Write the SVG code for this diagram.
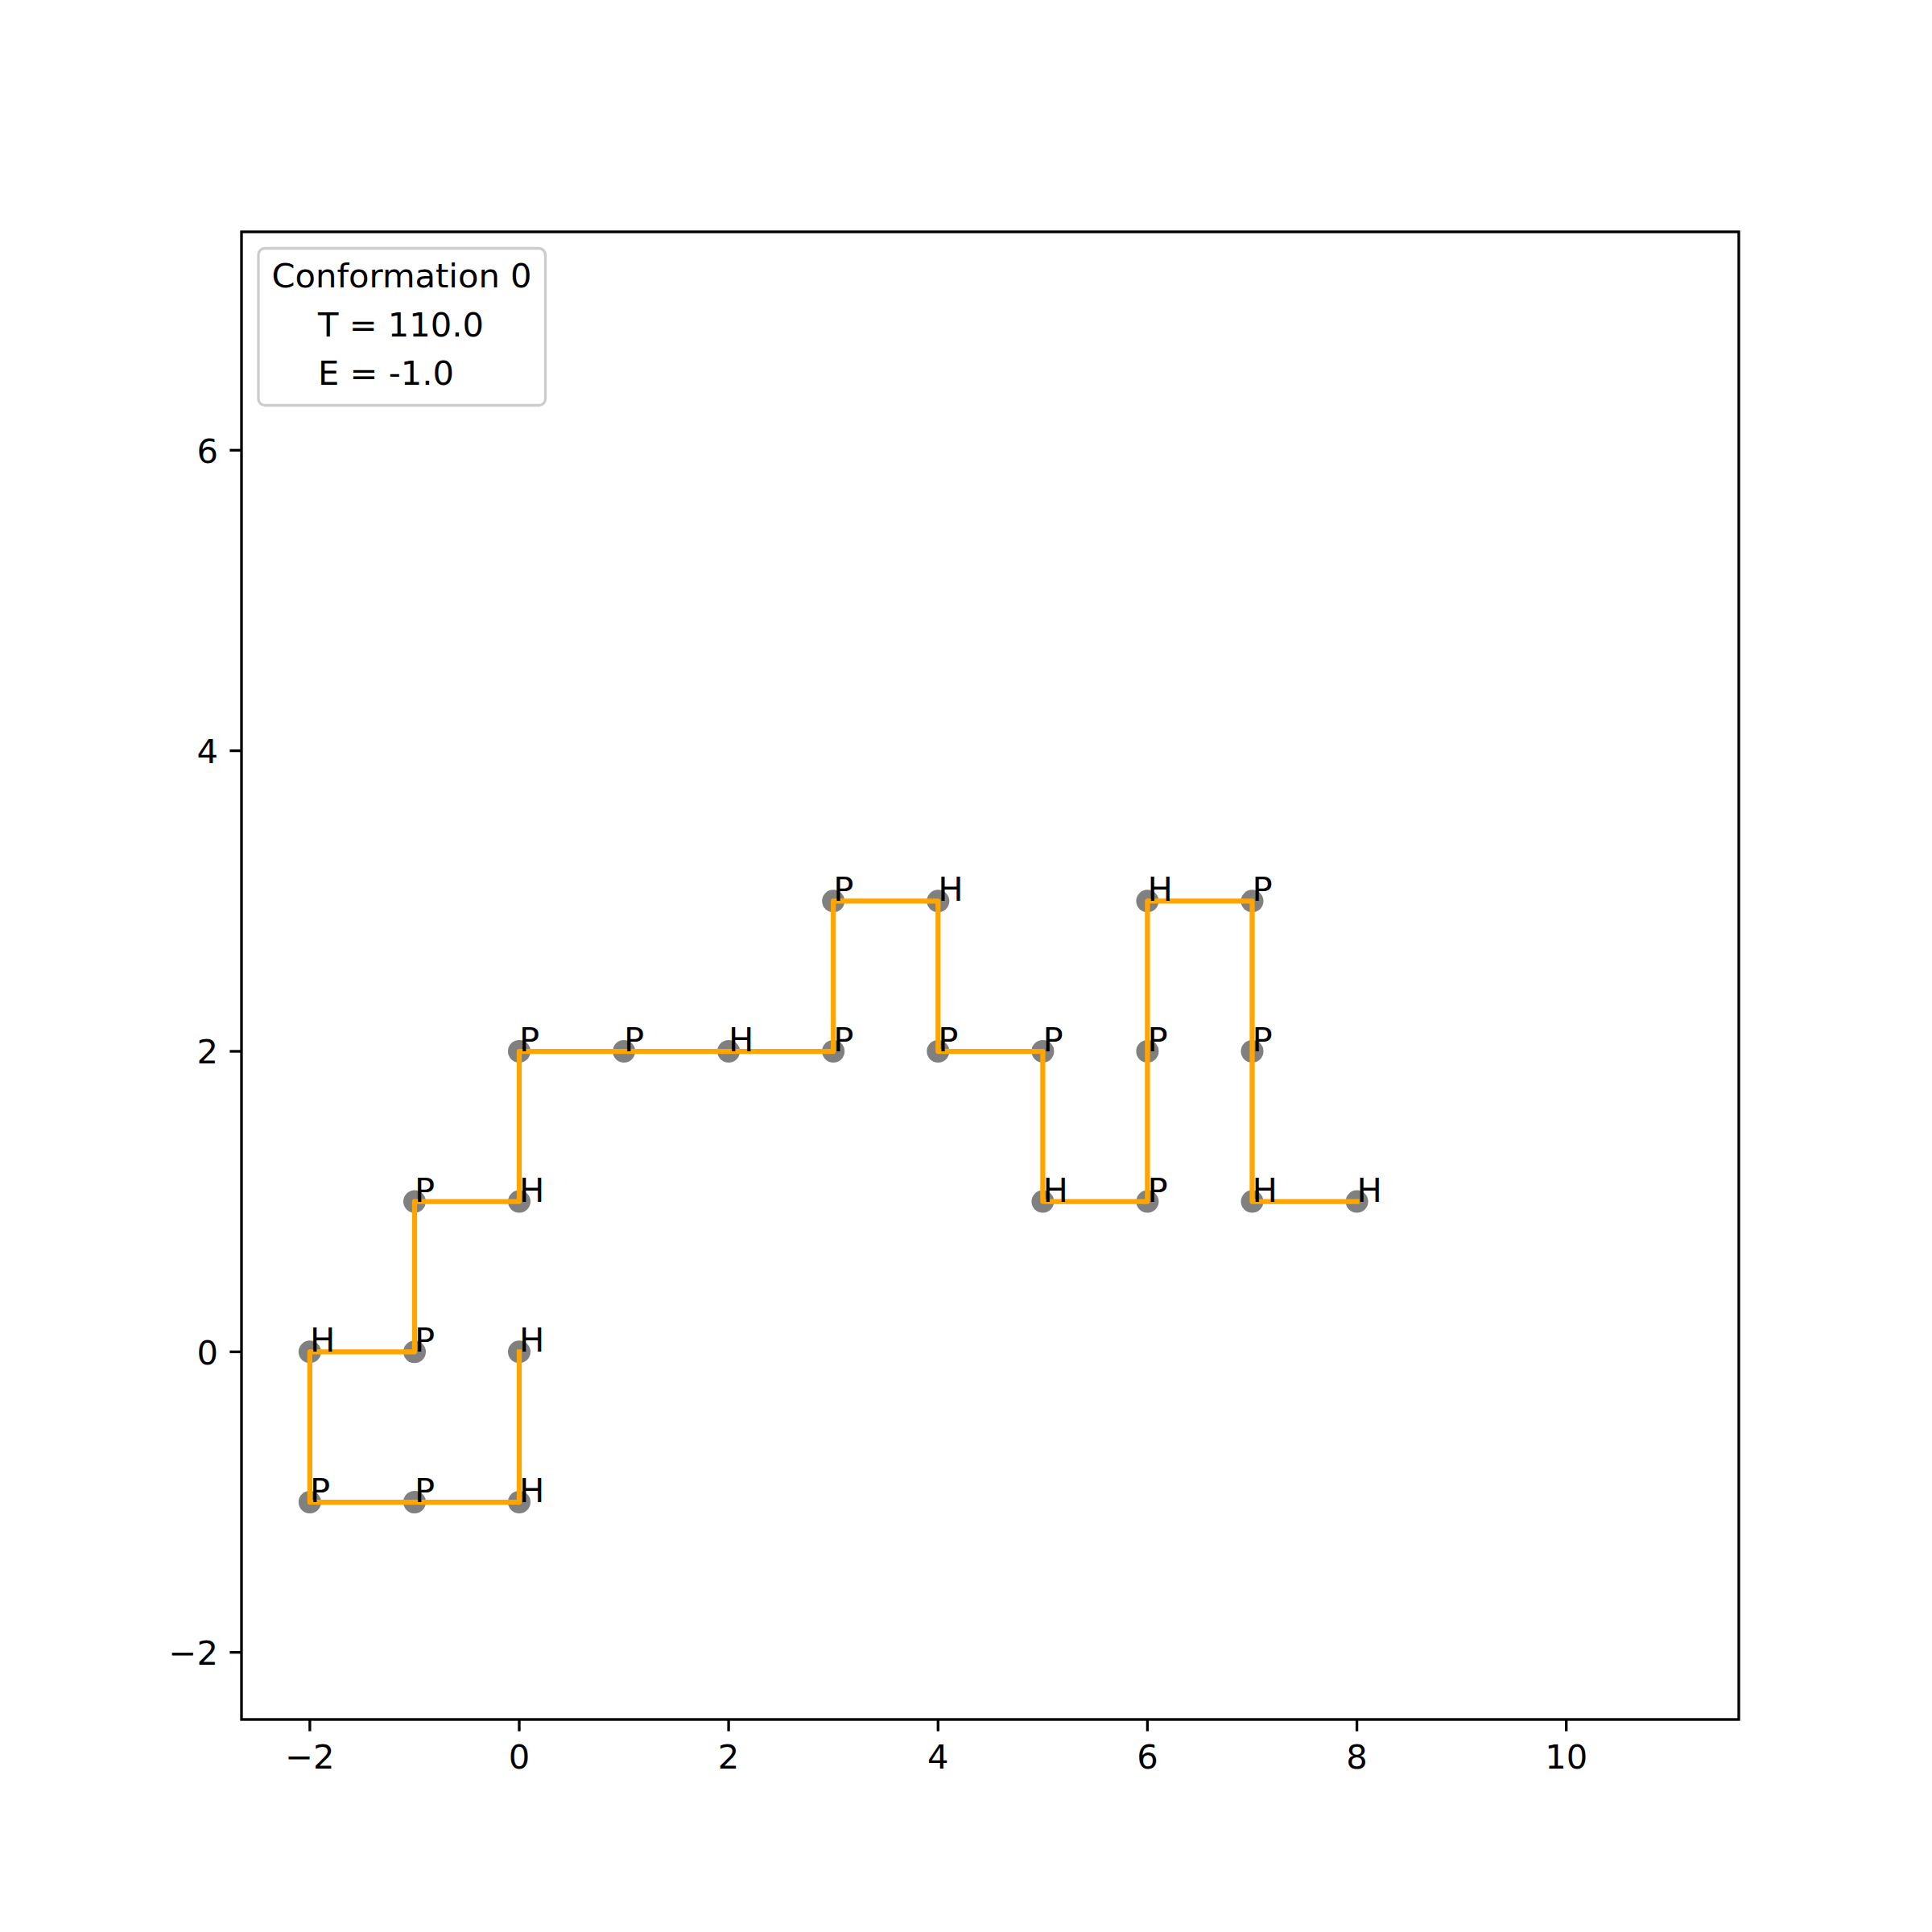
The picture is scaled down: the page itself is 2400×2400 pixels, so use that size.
<svg xmlns="http://www.w3.org/2000/svg" width="2400" height="2400" viewBox="0 0 2400 2400">
<style>
text{font-family:"DejaVu Sans","Liberation Sans",sans-serif;font-size:41.67px;fill:#000}
.tick{stroke:#000;stroke-width:3.33}
.pt{fill:#808080}
.lbl{font-size:41.67px}
</style>
<rect x="0" y="0" width="2400" height="2400" fill="#fff"/>
<g id="ticks">
<g class="tick">
<line x1="384.9" y1="2136" x2="384.9" y2="2150.6"/>
<line x1="645" y1="2136" x2="645" y2="2150.6"/>
<line x1="905.1" y1="2136" x2="905.1" y2="2150.6"/>
<line x1="1165.3" y1="2136" x2="1165.3" y2="2150.6"/>
<line x1="1425.4" y1="2136" x2="1425.4" y2="2150.6"/>
<line x1="1685.6" y1="2136" x2="1685.6" y2="2150.6"/>
<line x1="1945.7" y1="2136" x2="1945.7" y2="2150.6"/>
<line x1="285.4" y1="2052.6" x2="300" y2="2052.6"/>
<line x1="285.4" y1="1679.3" x2="300" y2="1679.3"/>
<line x1="285.4" y1="1306" x2="300" y2="1306"/>
<line x1="285.4" y1="932.6" x2="300" y2="932.6"/>
<line x1="285.4" y1="559.3" x2="300" y2="559.3"/>
</g>
<g text-anchor="middle">
<text x="384.9" y="2196.7">−2</text>
<text x="645" y="2196.7">0</text>
<text x="905.1" y="2196.7">2</text>
<text x="1165.3" y="2196.7">4</text>
<text x="1425.4" y="2196.7">6</text>
<text x="1685.6" y="2196.7">8</text>
<text x="1945.7" y="2196.7">10</text>
</g>
<g text-anchor="end">
<text x="271" y="2067.8">−2</text>
<text x="271" y="1694.5">0</text>
<text x="271" y="1321.2">2</text>
<text x="271" y="947.8">4</text>
<text x="271" y="574.5">6</text>
</g>
</g>
<g id="points">
<circle class="pt" cx="645" cy="1679.3" r="14"/>
<circle class="pt" cx="645" cy="1866" r="14"/>
<circle class="pt" cx="515" cy="1866" r="14"/>
<circle class="pt" cx="384.9" cy="1866" r="14"/>
<circle class="pt" cx="384.9" cy="1679.3" r="14"/>
<circle class="pt" cx="515" cy="1679.3" r="14"/>
<circle class="pt" cx="515" cy="1492.6" r="14"/>
<circle class="pt" cx="645" cy="1492.6" r="14"/>
<circle class="pt" cx="645" cy="1306" r="14"/>
<circle class="pt" cx="775.1" cy="1306" r="14"/>
<circle class="pt" cx="905.1" cy="1306" r="14"/>
<circle class="pt" cx="1035.2" cy="1306" r="14"/>
<circle class="pt" cx="1035.2" cy="1119.3" r="14"/>
<circle class="pt" cx="1165.3" cy="1119.3" r="14"/>
<circle class="pt" cx="1165.3" cy="1306" r="14"/>
<circle class="pt" cx="1295.4" cy="1306" r="14"/>
<circle class="pt" cx="1295.4" cy="1492.6" r="14"/>
<circle class="pt" cx="1425.4" cy="1492.6" r="14"/>
<circle class="pt" cx="1425.4" cy="1306" r="14"/>
<circle class="pt" cx="1425.4" cy="1119.3" r="14"/>
<circle class="pt" cx="1555.5" cy="1119.3" r="14"/>
<circle class="pt" cx="1555.5" cy="1306" r="14"/>
<circle class="pt" cx="1555.5" cy="1492.6" r="14"/>
<circle class="pt" cx="1685.6" cy="1492.6" r="14"/>
</g>
<g id="connectors">
<polyline fill="none" stroke="#FFA500" stroke-width="6.25" stroke-linecap="square" stroke-linejoin="round" points="645,1679.3 645,1866 515,1866 384.9,1866 384.9,1679.3 515,1679.3 515,1492.6 645,1492.6 645,1306 775.1,1306 905.1,1306 1035.2,1306 1035.2,1119.3 1165.3,1119.3 1165.3,1306 1295.4,1306 1295.4,1492.6 1425.4,1492.6 1425.4,1306 1425.4,1119.3 1555.5,1119.3 1555.5,1306 1555.5,1492.6 1685.6,1492.6"/>
</g>
<g id="labels" class="lbl">
<text x="645" y="1679.3">H</text>
<text x="645" y="1866">H</text>
<text x="515" y="1866">P</text>
<text x="384.9" y="1866">P</text>
<text x="384.9" y="1679.3">H</text>
<text x="515" y="1679.3">P</text>
<text x="515" y="1492.6">P</text>
<text x="645" y="1492.6">H</text>
<text x="645" y="1306">P</text>
<text x="775.1" y="1306">P</text>
<text x="905.1" y="1306">H</text>
<text x="1035.2" y="1306">P</text>
<text x="1035.2" y="1119.3">P</text>
<text x="1165.3" y="1119.3">H</text>
<text x="1165.3" y="1306">P</text>
<text x="1295.4" y="1306">P</text>
<text x="1295.4" y="1492.6">H</text>
<text x="1425.4" y="1492.6">P</text>
<text x="1425.4" y="1306">P</text>
<text x="1425.4" y="1119.3">H</text>
<text x="1555.5" y="1119.3">P</text>
<text x="1555.5" y="1306">P</text>
<text x="1555.5" y="1492.6">H</text>
<text x="1685.6" y="1492.6">H</text>
</g>
<rect id="frame" x="300" y="288" width="1860" height="1848" fill="none" stroke="#000" stroke-width="3.33"/>
<g id="legend">
<rect x="321" y="308.5" width="356.5" height="195" rx="8" ry="8" fill="#fff" fill-opacity="0.8" stroke="#cccccc" stroke-width="3.33"/>
<text x="499" y="356.7" text-anchor="middle">Conformation 0</text>
<text x="395" y="417.7">T = 110.0</text>
<text x="395" y="477.7">E = -1.0</text>
</g>
</svg>
